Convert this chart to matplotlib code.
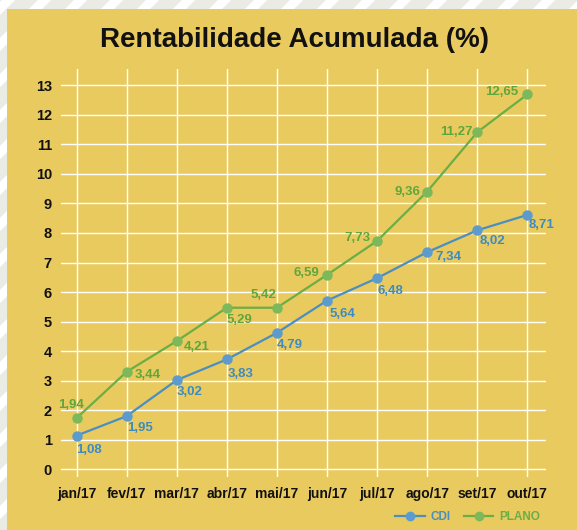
import matplotlib
matplotlib.use('Agg')
import matplotlib.pyplot as plt
from matplotlib.patches import Rectangle, Polygon

months = ['jan/17', 'fev/17', 'mar/17', 'abr/17', 'mai/17',
          'jun/17', 'jul/17', 'ago/17', 'set/17', 'out/17']
cdi = [1.14, 1.80, 3.02, 3.72, 4.62, 5.71, 6.47, 7.35, 8.09, 8.61]
plano = [1.73, 3.30, 4.34, 5.47, 5.47, 6.58, 7.73, 9.40, 11.41, 12.69]
cdi_labels = ['1,08', '1,95', '3,02', '3,83', '4,79', '5,64', '6,48', '7,34', '8,02', '8,71']
plano_labels = ['1,94', '3,44', '4,21', '5,29', '5,42', '6,59', '7,73', '9,36', '11,27', '12,65']

# label placement (pixels) and alignment
cdi_off = [(0, -14, 'left'), (1, -12, 'left'), (0, -12, 'left'), (1, -15, 'left'),
           (0, -12, 'left'), (3, -13, 'left'), (0, -13, 'left'), (8, -5, 'left'),
           (2, -11, 'left'), (1, -10, 'left')]
plano_off = [(-5, 13, 'center'), (8, -3, 'left'), (7, -6, 'left'), (0, -12, 'left'),
             (0, 13, 'right'), (-8, 2, 'right'), (-7, 3, 'right'), (-7, 0, 'right'),
             (-5, 0, 'right'), (-9, 2, 'right')]

YELLOW = '#E9CA5F'
GREEN = '#6AAE45'
GREEN_M = '#7CB95B'
GREEN_T = '#5FA63C'
BLUE = '#4A8EC2'
BLUE_M = '#5C9BCD'
BLUE_T = '#3E8BC1'

plt.rcParams['font.family'] = ['Liberation Sans', 'DejaVu Sans']

W, H = 577, 530
fig = plt.figure(figsize=(W / 100, H / 100), dpi=100, facecolor='#EBEBE6')

# striped background + yellow panel
bg = fig.add_axes([0, 0, 1, 1])
bg.set_xlim(0, W)
bg.set_ylim(H, 0)
bg.axis('off')
for s in range(-600, 700, 36):
    bg.add_patch(Polygon([(s, H), (s + 13, H), (s + 13 + H, 0), (s + H, 0)],
                         closed=True, facecolor='white', edgecolor='none'))
bg.add_patch(Rectangle((7, 9), W - 7, H - 9, facecolor=YELLOW, edgecolor='none'))

ax = fig.add_axes([61 / W, 1 - 477 / H, (546 - 61) / W, (477 - 69) / H])
ax.set_facecolor('none')
x = list(range(len(months)))
ax.set_xlim(-0.31, 9.373)
ax.set_ylim(-0.26, 13.55)
ax.set_xticks(x)
ax.set_xticklabels(months)
ax.set_yticks(range(0, 14))
ax.grid(True, color='white', lw=1.0)
ax.set_axisbelow(True)
for sp in ax.spines.values():
    sp.set_visible(False)
ax.tick_params(length=0, colors='#111111')
ax.tick_params(axis='y', labelsize=10.5, pad=6.5)
ax.tick_params(axis='x', labelsize=10, pad=7)
for lab in ax.get_xticklabels() + ax.get_yticklabels():
    lab.set_fontweight('bold')

ax.plot(x, cdi, color=BLUE, lw=1.6, marker='o', ms=6.5,
        mfc=BLUE_M, mec=BLUE_M, label='CDI', zorder=3)
ax.plot(x, plano, color=GREEN, lw=1.6, marker='o', ms=6.5,
        mfc=GREEN_M, mec=GREEN_M, label='PLANO', zorder=3)

for xi, v, t, (dx, dy, ha) in zip(x, cdi, cdi_labels, cdi_off):
    ax.annotate(t, (xi, v), xytext=(dx, dy), textcoords='offset pixels',
                ha=ha, va='center', color=BLUE_T, fontsize=9.5,
                fontweight='bold')
for xi, v, t, (dx, dy, ha) in zip(x, plano, plano_labels, plano_off):
    ax.annotate(t, (xi, v), xytext=(dx, dy), textcoords='offset pixels',
                ha=ha, va='center', color=GREEN_T, fontsize=9.5,
                fontweight='bold')

fig.text(294 / W, 1 - 40 / H, 'Rentabilidade Acumulada (%)', ha='center',
         va='center', fontsize=20, fontweight='bold', color='#111111')

leg = fig.legend(loc='center right', bbox_to_anchor=(546 / W, 1 - 517 / H),
                 ncol=2, frameon=False, borderpad=0, handlelength=2.5,
                 handletextpad=0.5, columnspacing=1.1, numpoints=1,
                 prop={'size': 8.5, 'weight': 'bold'}, labelcolor='linecolor')
for h in leg.legend_handles:
    h.set_markersize(6)

fig.savefig('out.png', dpi=100, facecolor=fig.get_facecolor())
